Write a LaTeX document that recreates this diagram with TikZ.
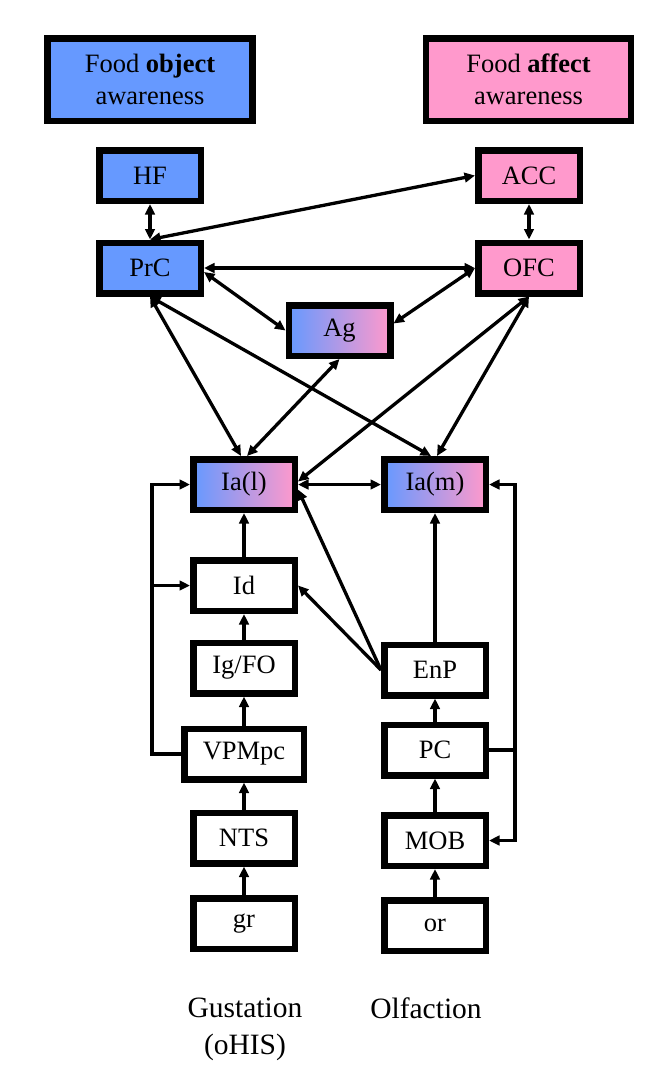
\documentclass[tikz,border=0pt]{standalone}
\usepackage{fontspec}
\setmainfont{Liberation Serif}
\usetikzlibrary{arrows.meta}
\definecolor{fblue}{RGB}{102,153,255}
\definecolor{fpink}{RGB}{255,153,204}
\begin{document}
\begin{tikzpicture}[x=1pt,y=-1pt,
  box/.style={draw=black,line width=6.5pt,inner sep=0pt,
    font=\fontsize{26.5}{30}\selectfont,text=black},
  sbox/.style={box,minimum width=101.5pt,minimum height=50.5pt},
  wbox/.style={box,minimum width=119.5pt,minimum height=50.5pt},
  tbox/.style={box,minimum width=205pt,minimum height=82.5pt,align=center,
    font=\fontsize{26.5}{32}\selectfont},
  blue/.style={fill=fblue},
  pink/.style={fill=fpink},
  grad/.style={left color=fblue,right color=fpink},
  arr/.style={line width=3.3pt,-{Triangle[length=10.5pt,width=9.5pt]}},
  darr/.style={line width=3.3pt,{Triangle[length=10.5pt,width=9.5pt]}-{Triangle[length=10.5pt,width=9.5pt]}},
  lbl/.style={inner sep=0pt,font=\fontsize{29.5}{37}\selectfont,align=center}
]
\useasboundingbox (0,0) rectangle (656,1082);
% top boxes
\node[tbox,blue] (fo) at (150,79.5) {Food \textbf{object}\\awareness};
\node[tbox,pink] (fa) at (528.5,79.5) {Food \textbf{affect}\\awareness};
% cortical boxes
\node[sbox,blue] (hf) at (150,175.5) {HF};
\node[sbox,pink] (acc) at (529,175.5) {ACC};
\node[sbox,blue] (prc) at (150,268) {PrC};
\node[sbox,pink] (ofc) at (529,268) {OFC};
\node[sbox,grad] (ag) at (339.5,330.5) {Ag};
\node[sbox,grad] (ial) at (244,484.5) {Ia(l)};
\node[sbox,grad] (iam) at (435,484.5) {Ia(m)};
% gustatory chain
\node[sbox] (id) at (244,585.5) {Id};
\node[sbox] (igfo) at (244,668) {Ig/FO};
\node[wbox] (vpm) at (244,754) {VPMpc};
\node[sbox] (nts) at (244,838) {NTS};
\node[sbox] (gr) at (244,923.5) {gr};
% olfactory chain
\node[sbox] (enp) at (435,670) {EnP};
\node[sbox] (pc) at (435,750) {PC};
\node[sbox] (mob) at (435,840.5) {MOB};
\node[sbox] (orr) at (435,925.5) {or};
% labels
\node[lbl,anchor=north] (gus) at (245,998) {Gustation\\(oHIS)};
\node[lbl,anchor=base] (olf) at (426,1018) {Olfaction};
% connectors, top
\draw[darr] (hf) -- (prc);
\draw[darr] (acc) -- (ofc);
\draw[darr] (prc.north) -- (acc.west);
\draw[darr] (prc.east) -- (ofc.west);
\draw[darr] ([yshift=-4pt]prc.east) -- (ag.west);
\draw[darr] (ofc.west) -- ([yshift=7pt]ag.east);
\draw[darr] (prc.south) -- ([xshift=-3pt]ial.north);
\draw[darr] (prc.south) -- ([xshift=-4pt]iam.north);
\draw[darr] (ofc.south) -- ([yshift=3pt]ial.east);
\draw[darr] (ofc.south) -- ([xshift=2pt]iam.north);
\draw[darr] (ag.south) -- ([xshift=3pt]ial.north);
\draw[darr] (ial.east) -- (iam.west);
% gustatory
\draw[arr] (id) -- (ial);
\draw[arr] (igfo) -- (id);
\draw[arr] (vpm) -- (igfo);
\draw[arr] (nts) -- (vpm);
\draw[arr] (gr) -- (nts);
\coordinate (lx) at (152,754);
\draw[arr] (vpm.west) -- (lx) |- (ial.west);
\draw[arr] (lx |- id.west) -- (id.west);
% olfactory
\draw[arr] (orr) -- (mob);
\draw[arr] (mob) -- (pc);
\draw[arr] (pc) -- (enp);
\draw[arr] (enp) -- (iam);
\draw[arr] (enp.west) -- (id.east);
\draw[arr] (enp.west) -- ([yshift=-5pt]ial.east);
\coordinate (rx) at (515,750);
\draw[arr] (pc.east) -- (rx) |- (iam.east);
\draw[arr] (rx) |- (mob.east);
\end{tikzpicture}
\end{document}
